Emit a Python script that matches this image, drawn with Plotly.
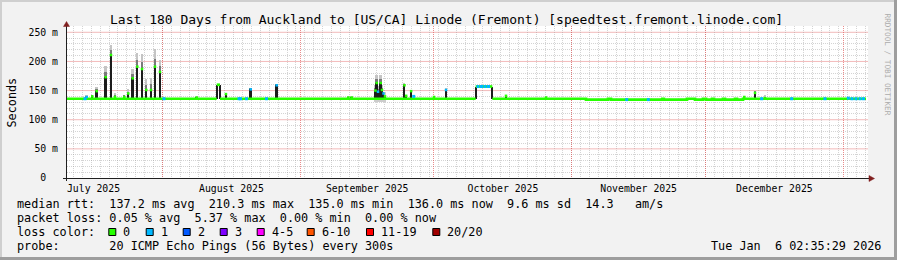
import plotly.graph_objects as go
from datetime import datetime

# ---------------- data ----------------
TITLE = "Last 180 Days from Auckland to [US/CA] Linode (Fremont) [speedtest.fremont.linode.com]"
X_START = "2025-07-10 13:00"
X_END = "2026-01-06 13:00"
Y_TOP_MS = 260.8

# median RTT (ms) as piecewise-constant levels; each level starts at step_t
step_t = ["2025-07-10 13:00", "2025-08-13 04:25", "2025-08-13 22:10", "2025-10-10 09:10",
          "2025-10-14 02:50", "2025-11-04 04:05", "2025-11-09 02:50", "2025-11-09 18:55",
          "2025-11-21 08:00", "2025-11-21 16:00", "2025-11-26 20:50", "2025-11-28 16:00",
          "2025-11-30 11:05", "2025-12-01 03:20", "2025-12-02 11:40", "2025-12-02 22:30",
          "2025-12-04 23:00", "2025-12-05 09:50", "2025-12-07 15:40", "2025-12-08 02:30",
          "2025-12-09 10:55"]
step_ms = [136, 160, 136, 157,
           136, 134.5, 136, 134.5,
           136, 134.5, 136, 134.5,
           136, 134.5, 136, 134.5,
           136, 134.5, 136, 134.5,
           136]
median_end = "2026-01-06 02:10"

# short latency spikes: time, median (ms), top of smoke (ms), loss class index
spike_t = ["2025-07-14 23:15", "2025-07-16 05:30", "2025-07-17 05:10", "2025-07-19 05:40",
           "2025-07-20 10:20", "2025-07-21 07:55", "2025-07-23 10:00", "2025-07-24 07:35",
           "2025-07-25 07:20", "2025-07-26 08:10", "2025-07-27 09:30", "2025-07-28 08:40",
           "2025-07-29 10:00", "2025-07-30 07:35", "2025-07-31 10:35", "2025-08-08 16:30",
           "2025-08-15 06:30", "2025-08-20 19:50", "2025-08-26 16:00", "2025-09-11 18:05",
           "2025-09-12 12:30", "2025-09-17 20:50", "2025-09-18 03:20", "2025-09-18 10:20",
           "2025-09-19 00:55", "2025-09-19 07:55", "2025-09-19 16:00", "2025-09-20 00:05",
           "2025-09-24 09:00", "2025-09-24 18:05", "2025-09-25 21:05", "2025-10-01 00:20",
           "2025-10-03 17:05", "2025-10-17 04:40", "2025-10-26 04:25", "2025-12-09 17:55",
           "2025-12-12 03:35", "2025-12-14 09:30"]
spike_med = [139, 140, 149, 173,
             211, 139, 139, 145,
             171, 191, 187, 151,
             151, 191, 182, 138,
             144, 152, 159, 138,
             138, 150, 163, 148,
             163, 151, 145, 140,
             159, 141, 149, 139,
             151, 141, 138, 139,
             146, 137]
spike_max = [141, 143, 156, 192,
             229, 146, 143, 152,
             187, 215, 212, 170,
             172, 222, 203, 139,
             146, 154, 161, 139,
             139, 160, 177, 158,
             177, 160, 147, 141,
             163, 142, 151, 140,
             153, 142, 139, 140,
             150, 142]
spike_loss = [1, 0, 0, 0,
              0, 0, 0, 0,
              0, 0, 0, 0,
              0, 0, 0, 0,
              0, 1, 1, 0,
              0, 0, 0, 1,
              0, 0, 1, 0,
              0, 0, 0, 0,
              1, 0, 0, 0,
              0, 0]

# broader smoke band around the September cluster
smoke_t0 = ["2025-09-17 12:00"]
smoke_t1 = ["2025-09-20 03:00"]
smoke_lo = [131]
smoke_hi = [148]

# median samples with 1 ping lost
loss1_t = ["2025-07-14 14:05", "2025-08-01 08:05", "2025-08-18 04:35", "2025-08-18 12:40",
           "2025-08-19 21:05", "2025-08-24 09:00", "2025-09-26 11:05", "2025-10-10 21:35",
           "2025-10-11 16:30", "2025-10-12 11:25", "2025-10-13 06:20", "2025-11-13 07:35",
           "2025-11-18 04:05", "2025-12-13 15:40", "2025-12-20 09:30", "2025-12-27 21:05",
           "2026-01-02 02:50", "2026-01-02 22:40", "2026-01-03 20:20", "2026-01-04 17:55",
           "2026-01-05 12:50"]
loss1_ms = [136, 136, 136, 136,
            136, 136, 140, 157,
            157, 157, 157, 134.5,
            134.5, 136, 136, 136,
            137, 136, 136, 136,
            136]

ytick_vals = [0, 50, 100, 150, 200, 250]
ytick_text = ["0\u00a0\u00a0", "50 m", "100 m", "150 m", "200 m", "250 m"]
y_minor_step = 10
x_minor_days = 2

loss_labels = ["0", "1", "2", "3", "4-5", "6-10", "11-19", "20/20"]
loss_colors = ["#26ff00", "#00b8ff", "#0059ff", "#7e00ff", "#ff00ff", "#ff5500", "#ff0000", "#a10000"]

legend_lines = [
    "median rtt:  137.2 ms avg  210.3 ms max  135.0 ms min  136.0 ms now  9.6 ms sd  14.3   am/s",
    "packet loss: 0.05 % avg  5.37 % max  0.00 % min  0.00 % now",
    "loss color:",
    "probe:       20 ICMP Echo Pings (56 Bytes) every 300s",
]
timestamp_text = "Tue Jan  6 02:35:29 2026"
watermark_text = "RRDTOOL / TOBI OETIKER"

# ---------------- layout constants (pixels) ----------------
W, H = 897, 260
L, R, T, B = 67, 868, 26, 178
FONT = "DejaVu Sans Mono"
BACK = "#f2f2f2"
SHADE_A = "#cfcfcf"
SHADE_B = "#9e9e9e"
GRID = "rgba(143,143,143,0.38)"
MGRID = "rgba(222,79,79,0.65)"
MGRID_H = "rgba(225,90,90,0.42)"
ARROW = "#801f1f"
AXIS = "#1f1f1f"
SMOKE_DARK = "#1c1c1c"
legend_y = [204, 218, 232, 246]
legend_box_x = [108.3, 145.7, 182.7, 219.7, 256.7, 306.7, 366, 432.3]
DAY_MS = 86400000


def px(x):
    return (x - L) / (R - L)


def py(y):
    return (B - y) / (B - T)


def ts(s):
    return datetime.fromisoformat(s)


def level_at(t):
    v = step_ms[0]
    for st, sv in zip(step_t, step_ms):
        if ts(st) <= ts(t):
            v = sv
        else:
            break
    return v


def nb(s):
    return s.replace(" ", "\u00a0")


# median line (broken at big jumps, edges drawn as smoke)
lx, ly = [], []
edge_t, edge_lo, edge_hi = [], [], []
for i, (st, sv) in enumerate(zip(step_t, step_ms)):
    nxt = step_t[i + 1] if i + 1 < len(step_t) else median_end
    lx += [st, nxt]
    ly += [sv, sv]
    if i + 1 < len(step_t):
        nv = step_ms[i + 1]
        if abs(nv - sv) > 3:
            lx.append(None)
            ly.append(None)
            edge_t.append(nxt)
            edge_lo.append(min(sv, nv))
            edge_hi.append(max(sv, nv))

fig = go.Figure()

band_x = [ts(a) + (ts(b) - ts(a)) / 2 for a, b in zip(smoke_t0, smoke_t1)]
band_w = [(ts(b) - ts(a)).total_seconds() * 1000 for a, b in zip(smoke_t0, smoke_t1)]
fig.add_trace(go.Bar(x=band_x, base=smoke_lo, y=[h - l for h, l in zip(smoke_hi, smoke_lo)],
                     width=band_w, marker=dict(color="#cccccc", line_width=0), hoverinfo="skip"))

spike_base = [level_at(t) for t in spike_t]
wid = 0.42 * DAY_MS
fig.add_trace(go.Bar(x=spike_t, base=spike_med, y=[mx - md for mx, md in zip(spike_max, spike_med)],
                     width=wid, marker=dict(color="#c4c4c4", line_width=0), hoverinfo="skip"))
fig.add_trace(go.Bar(x=spike_t, base=spike_med, y=[(mx - md) * 0.45 for mx, md in zip(spike_max, spike_med)],
                     width=wid, marker=dict(color="#7a7a7a", line_width=0), hoverinfo="skip"))
fig.add_trace(go.Bar(x=spike_t, base=spike_base, y=[md - b for md, b in zip(spike_med, spike_base)],
                     width=wid, marker=dict(color=SMOKE_DARK, line_width=0), hoverinfo="skip"))
fig.add_trace(go.Bar(x=edge_t, base=edge_lo, y=[h - l for h, l in zip(edge_hi, edge_lo)],
                     width=0.24 * DAY_MS, marker=dict(color=SMOKE_DARK, line_width=0), hoverinfo="skip"))

fig.add_trace(go.Scatter(x=lx, y=ly, mode="lines", line=dict(color=loss_colors[0], width=2.7),
                         connectgaps=False, hoverinfo="skip"))
fig.add_trace(go.Scatter(x=spike_t, y=spike_med, mode="markers",
                         marker=dict(symbol="square", size=2.5, color=[loss_colors[k] for k in spike_loss],
                                     line_width=0), hoverinfo="skip"))
fig.add_trace(go.Scatter(x=loss1_t, y=loss1_ms, mode="markers",
                         marker=dict(symbol="square", size=3, color=loss_colors[1], line_width=0),
                         hoverinfo="skip"))
# empty trace anchoring the overlay x axis that carries month grid + labels
fig.add_trace(go.Scatter(x=[X_START], y=[0], xaxis="x2", yaxis="y", mode="markers",
                         marker=dict(opacity=0), hoverinfo="skip"))

shapes = []
# major horizontal grid at the labelled y values
for v in ytick_vals[1:]:
    shapes.append(dict(type="line", xref="paper", yref="y", x0=0, x1=1, y0=v, y1=v,
                       line=dict(color=MGRID_H, width=1), layer="below"))
shapes.append(dict(type="rect", xref="paper", yref="paper", x0=px(0), x1=px(W), y0=py(0), y1=py(2),
                   fillcolor=SHADE_A, line_width=0, layer="above"))
shapes.append(dict(type="rect", xref="paper", yref="paper", x0=px(0), x1=px(2), y0=py(0), y1=py(H),
                   fillcolor=SHADE_A, line_width=0, layer="above"))
shapes.append(dict(type="rect", xref="paper", yref="paper", x0=px(0), x1=px(W), y0=py(H - 3), y1=py(H),
                   fillcolor=SHADE_B, line_width=0, layer="above"))
shapes.append(dict(type="rect", xref="paper", yref="paper", x0=px(W - 3), x1=px(W), y0=py(0), y1=py(H),
                   fillcolor=SHADE_B, line_width=0, layer="above"))
shapes.append(dict(type="line", xref="paper", yref="paper", x0=px(66.5), x1=px(66.5), y0=py(181), y1=py(26),
                   line=dict(color=AXIS, width=1), layer="above"))
shapes.append(dict(type="line", xref="paper", yref="paper", x0=px(63), x1=px(869), y0=py(178.5), y1=py(178.5),
                   line=dict(color=AXIS, width=1), layer="above"))
shapes.append(dict(type="path", xref="paper", yref="paper",
                   path=f"M {px(66.5)} {py(21.5)} L {px(63.5)} {py(26.5)} L {px(69.5)} {py(26.5)} Z",
                   fillcolor=ARROW, line=dict(color=ARROW, width=0.5), layer="above"))
shapes.append(dict(type="path", xref="paper", yref="paper",
                   path=f"M {px(874.5)} {py(178.5)} L {px(869)} {py(175.5)} L {px(869)} {py(181.5)} Z",
                   fillcolor=ARROW, line=dict(color=ARROW, width=0.5), layer="above"))
for bx, col in zip(legend_box_x, loss_colors):
    shapes.append(dict(type="rect", xref="paper", yref="paper", x0=px(bx + 0.5), x1=px(bx + 7.5),
                       y0=py(legend_y[2] + 3.5), y1=py(legend_y[2] - 3.5),
                       fillcolor=col, line=dict(color="#000000", width=1), layer="above"))

ann = []
ann.append(dict(text=nb(TITLE), x=px(446.5), y=py(19), xref="paper", yref="paper", showarrow=False,
                xanchor="center", yanchor="middle", font=dict(family=FONT, size=13, color="#000"), borderpad=0))
ann.append(dict(text="Seconds", x=px(11), y=py(102.5), xref="paper", yref="paper", showarrow=False,
                textangle=-90, xanchor="center", yanchor="middle", font=dict(family=FONT, size=11.8, color="#000"),
                borderpad=0))
for line, yy in zip(legend_lines, legend_y):
    ann.append(dict(text=nb(line), x=px(16), y=py(yy), xref="paper", yref="paper", showarrow=False,
                    xanchor="left", yanchor="middle", font=dict(family=FONT, size=11.8, color="#000"), borderpad=0))
for bx, lab in zip(legend_box_x, loss_labels):
    ann.append(dict(text=lab, x=px(bx + 14), y=py(legend_y[2]), xref="paper", yref="paper", showarrow=False,
                    xanchor="left", yanchor="middle", font=dict(family=FONT, size=11.8, color="#000"), borderpad=0))
ann.append(dict(text=nb(timestamp_text), x=px(882), y=py(legend_y[3]), xref="paper", yref="paper",
                showarrow=False, xanchor="right", yanchor="middle",
                font=dict(family=FONT, size=11.8, color="#000"), borderpad=0))
ann.append(dict(text=nb(watermark_text), x=px(887.5), y=py(64), xref="paper", yref="paper", showarrow=False,
                textangle=90, xanchor="center", yanchor="middle",
                font=dict(family=FONT, size=7.7, color="#acacac"), borderpad=0))

y_minor_vals = [v for v in range(0, 261, y_minor_step) if v not in ytick_vals]
tickfont = dict(family=FONT, size=9.8, color="#000")

fig.update_layout(
    width=W, height=H,
    margin=dict(l=L, r=W - R, t=T, b=H - B, pad=0),
    paper_bgcolor=BACK, plot_bgcolor="#ffffff",
    showlegend=False, barmode="overlay", bargap=0,
    font=dict(family=FONT, size=9.8, color="#000"),
    xaxis=dict(type="date", range=[X_START, X_END], tick0="2025-08-01", dtick=x_minor_days * DAY_MS,
               showgrid=True, gridcolor=GRID, griddash="1px,1px", gridwidth=1,
               showticklabels=False, zeroline=False, showline=False, ticks="", fixedrange=True),
    xaxis2=dict(type="date", overlaying="x", anchor="y", side="bottom", range=[X_START, X_END],
                tick0="2025-07-01", dtick="M1", ticklabelmode="period", tickformat="%B %Y",
                showgrid=True, gridcolor=MGRID, griddash="1px,1px", gridwidth=1,
                zeroline=False, showline=False, ticks="", ticklabelstandoff=3,
                tickfont=tickfont, fixedrange=True),
    yaxis=dict(range=[0, Y_TOP_MS], tickmode="array", tickvals=ytick_vals, ticktext=ytick_text,
               showgrid=False,
               minor=dict(tickmode="array", tickvals=y_minor_vals, showgrid=True, gridcolor=GRID,
                          griddash="1px,1px", gridwidth=1, ticks=""),
               zeroline=False, showline=False, ticks="", ticklabelstandoff=8,
               tickfont=tickfont, fixedrange=True),
    shapes=shapes, annotations=ann,
)

fig.write_html("out.html", config={"displayModeBar": False})
